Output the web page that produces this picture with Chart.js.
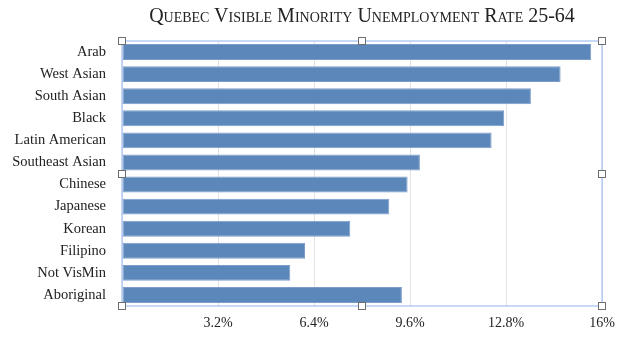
<!DOCTYPE html>
<html>
<head>
<meta charset="utf-8">
<script src="https://cdn.jsdelivr.net/npm/chart.js@4"></script>
<style>
  body { margin: 0; background: #fff; }
  #wrap { position: relative; width: 630px; height: 346px; }
  #title {
    position: absolute; left: 47px; top: 4px; width: 630px;
    font-family: "Liberation Serif", serif; font-variant: small-caps;
    font-size: 20px; color: #222; text-align: center;
  }
</style>
</head>
<body>
<div id="wrap">
  <div id="title">Quebec Visible Minority Unemployment Rate 25-64</div>
  <canvas id="rateChart" width="630" height="346"></canvas>
</div>
<script>
const groups = [
  "Arab", "West Asian", "South Asian", "Black", "Latin American",
  "Southeast Asian", "Chinese", "Japanese", "Korean", "Filipino",
  "Not VisMin", "Aboriginal",
];
const rates = [15.64, 14.62, 13.63, 12.74, 12.32, 9.93, 9.52, 8.91, 7.61, 6.1, 5.61, 9.33];
const rateTicks = ["", "3.2%", "6.4%", "9.6%", "12.8%", "16%"];

// outline + grab handles around the plot area
const selectionBox = {
  id: "selectionBox",
  afterDraw(chart) {
    const { ctx, chartArea: a } = chart;
    ctx.save();
    ctx.strokeStyle = "#a3c0f3";
    ctx.lineWidth = 1.2;
    ctx.strokeRect(a.left, a.top, a.right - a.left, a.bottom - a.top);
    const midX = (a.left + a.right) / 2;
    const midY = (a.top + a.bottom) / 2;
    const handles = [
      [a.left, a.top], [midX, a.top], [a.right, a.top],
      [a.left, midY], [a.right, midY],
      [a.left, a.bottom], [midX, a.bottom], [a.right, a.bottom],
    ];
    ctx.fillStyle = "#fff";
    ctx.strokeStyle = "#6e6e6e";
    ctx.lineWidth = 1;
    handles.forEach(([x, y]) => {
      ctx.fillRect(Math.round(x) - 3.5, Math.round(y) - 3.5, 7, 7);
      ctx.strokeRect(Math.round(x) - 3.5, Math.round(y) - 3.5, 7, 7);
    });
    ctx.restore();
  },
};

new Chart(document.getElementById("rateChart"), {
  type: "bar",
  data: {
    labels: groups,
    datasets: [
      {
        data: rates,
        backgroundColor: "#5b87ba",
        borderColor: "#7c9dca",
        borderWidth: 1,
        borderSkipped: false,
        barPercentage: 0.72,
        categoryPercentage: 1,
      },
    ],
  },
  options: {
    indexAxis: "y",
    responsive: false,
    animation: false,
    layout: { padding: { top: 41, right: 28, left: 0, bottom: 10 } },
    plugins: {
      legend: { display: false },
      tooltip: { enabled: false },
    },
    scales: {
      x: {
        min: 0,
        max: 16,
        afterFit: function (scale) {
          scale.height = 30;
        },
        ticks: {
          stepSize: 3.2,
          padding: 9,
          color: "#222",
          font: { family: "Liberation Serif", size: 14 },
          callback: function (value, index) {
            return rateTicks[index];
          },
        },
        grid: { color: "#e3e3e3", drawTicks: false },
        border: { display: false },
      },
      y: {
        afterFit: function (scale) {
          scale.width = 122;
        },
        ticks: {
          color: "#222",
          padding: 8,
          font: { family: "Liberation Serif", size: 14.5 },
        },
        grid: { display: false },
        border: { display: false },
      },
    },
  },
  plugins: [selectionBox],
});
</script>
</body>
</html>
